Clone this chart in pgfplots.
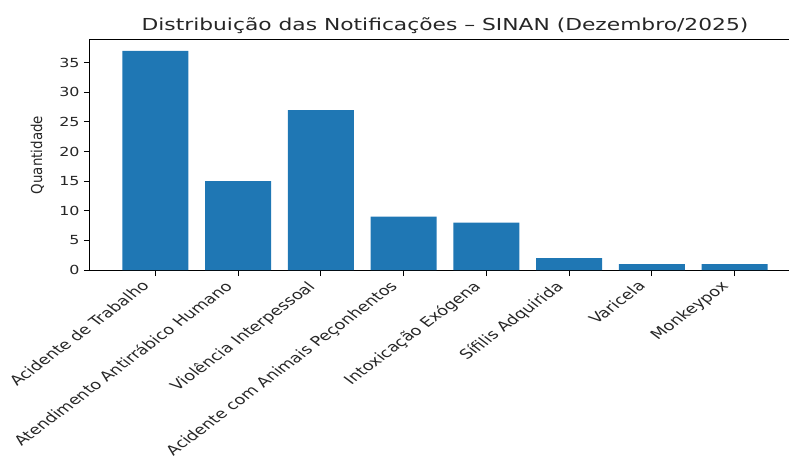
\documentclass[border=0pt]{standalone}
\usepackage{fontspec}
\setmainfont{DejaVu Sans}
\usepackage{pgfplots}
\pgfplotsset{compat=1.18}
\definecolor{mplblue}{HTML}{1F77B4}
\begin{document}
\begin{tikzpicture}
\begin{axis}[
  name=main,
  scale only axis, width=710pt, height=230pt,
  xmin=-0.79, xmax=7.79, ymin=0, ymax=38.85,
  ybar, bar width=0.8,
  xtick={0,1,2,3,4,5,6,7},
  xticklabels={Acidente de Trabalho, Atendimento Antirrábico Humano, Violência Interpessoal, Acidente com Animais Peçonhentos, Intoxicação Exógena, Sífilis Adquirida, Varicela, Monkeypox},
  ytick={0,5,10,15,20,25,30,35},
  tick align=outside, tick pos=left, major tick length=6pt,
  axis line style={line width=1pt},
  every tick/.style={black, line width=1pt},
  /pgf/number format/assume math mode=true,
  tick label style={font=\fontsize{12.5}{15}\selectfont, text=black!85},
  yticklabel style={xscale=1.27},
  xticklabel style={font=\fontsize{13.4}{16}\selectfont, xshift=-15pt, yshift=1pt, xscale=1.33, rotate=45, anchor=north east},
  ylabel={Quantidade},
  ylabel shift=7pt,
  ylabel style={font=\fontsize{13.4}{16}\selectfont, yscale=1.12, text=black!85},
  title={Distribuição das Notificações – SINAN (Dezembro/2025)},
  title style={font=\fontsize{16.5}{20}\selectfont, at={(0.5,1)}, anchor=south, yshift=-3pt, xscale=1.32, text=black!85},
]
\addplot[fill=mplblue, draw=none] coordinates {(0,37) (1,15) (2,27) (3,9) (4,8) (5,2) (6,1) (7,1)};
\end{axis}
\pgfresetboundingbox
\path ([shift={(-90pt,-185pt)}]main.south west) rectangle ([shift={(699pt,270pt)}]main.south west);
\end{tikzpicture}
\end{document}
